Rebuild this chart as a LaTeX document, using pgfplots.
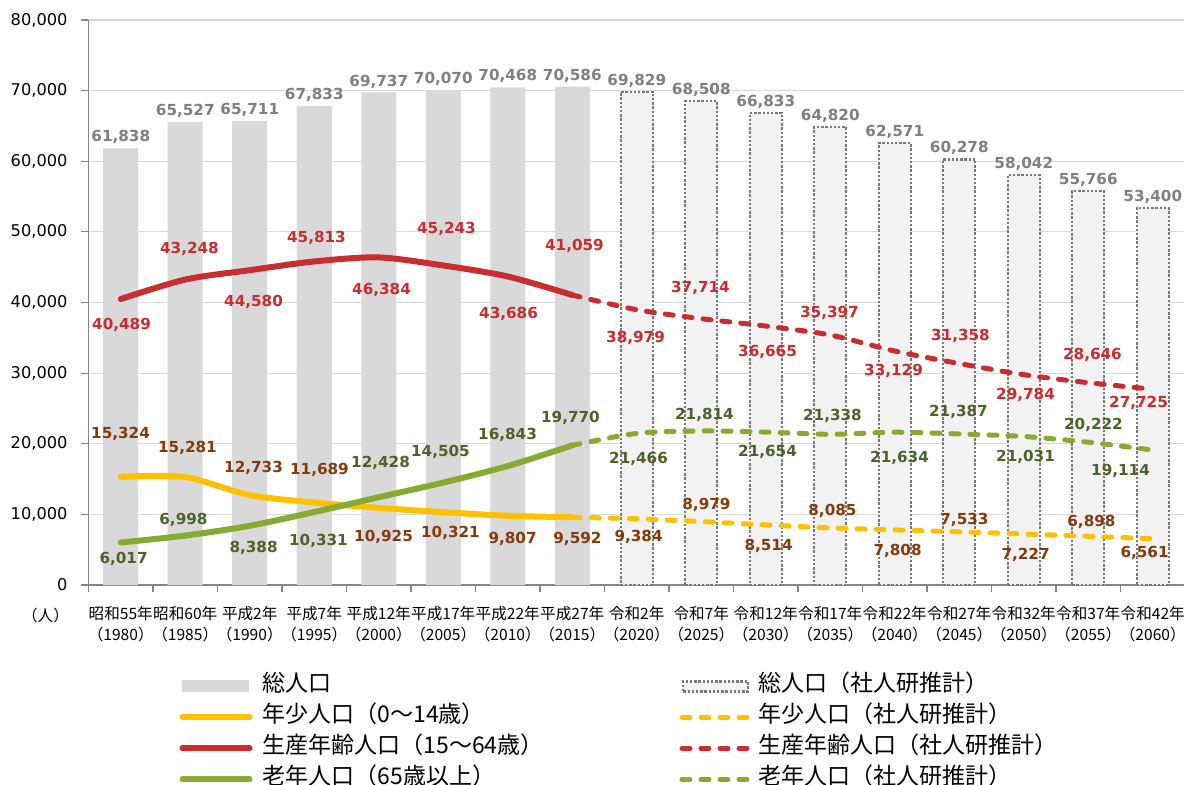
\documentclass[border=0pt]{standalone}
\usepackage{fontspec}
\setmainfont{DejaVu Sans}
\newfontfamily\jp{Noto Sans CJK JP}
\usepackage{pgfplots}
\usepackage{pgfplotstable}
\pgfplotsset{compat=1.18}
\definecolor{barH}{RGB}{217,217,217}
\definecolor{barP}{RGB}{242,242,242}
\definecolor{dotc}{RGB}{120,120,120}
\definecolor{axc}{RGB}{134,134,134}
\definecolor{gridc}{RGB}{217,217,217}
\definecolor{yel}{RGB}{255,192,0}
\definecolor{red1}{RGB}{200,45,48}
\definecolor{grn}{RGB}{134,170,50}
\definecolor{labgray}{RGB}{128,128,128}
\definecolor{labbrown}{RGB}{132,60,12}
\definecolor{labgreen}{RGB}{79,98,40}

\pgfplotstableread{
x tot
0 61838
1 65527
2 65711
3 67833
4 69737
5 70070
6 70468
7 70586
}\totH
\pgfplotstableread{
x tot
8 69829
9 68508
10 66833
11 64820
12 62571
13 60278
14 58042
15 55766
16 53400
}\totP
\pgfplotstableread{
x y dx dy
0 40489 0.4 -13
1 43248 2.1 15.3
2 44580 1.9 -15.9
3 45813 1.1 11.7
4 46384 1.4 -16.3
5 45243 1.6 18.2
6 43686 0.4 -18.7
7 41059 1.1 24.5
8 38979 -0.6 -14.2
9 37714 -0.4 15.3
10 36665 0.9 -13
11 35397 -0.4 11
12 33129 -0.6 -10
13 31358 0.6 13.7
14 29784 0.9 -10.1
15 28646 2.1 13.8
16 27725 -7.1 -6.9
}\prodtab
\pgfplotstableread{
x y dx dy
0 15324 -0.1 21.4
1 15281 1.1 14.6
2 12733 1.9 13.6
3 11689 2.6 16.2
4 10925 2.4 -14.6
5 10321 3.6 -10.5
6 9807 2.4 -11.7
7 9592 2.6 -10.9
8 9384 0.9 -9.2
9 8979 2.6 8.3
10 8514 1.4 -10.6
11 8085 1.1 8.5
12 7808 1.4 -10.6
13 7533 2.6 5.9
14 7227 0.9 -10.5
15 6898 1.6 7.2
16 6561 -4.1 -7.2
}\youngtab
\pgfplotstableread{
x y dx dy
0 6017 1.4 -8.3
1 6998 -0.9 7.8
2 8388 1.9 -11.1
3 10331 2.1 -14.5
4 12428 0.9 17.1
5 14505 -1.4 15.3
6 16843 -0.1 15.5
7 19770 -0.9 13.7
8 21466 0.9 -12.8
9 21814 1.6 8
10 21654 0.9 -10
11 21338 1.1 9.2
12 21634 2.4 -12.9
13 21387 -0.4 11
14 21031 0.9 -10.3
15 20222 2.6 8.6
16 19114 -16.1 -10.5
}\oldtab

\pgfplotsset{
  lab/.style={draw=none, forget plot, nodes near coords, point meta=y,
    visualization depends on={\thisrow{dx} \as \dx},
    visualization depends on={\thisrow{dy} \as \dy},
    nodes near coords={\pgfmathprintnumber[fixed,precision=0,1000 sep={,},assume math mode=true]{\pgfplotspointmeta}},
    nodes near coords align={anchor=center},
    every node near coord/.append style={anchor=center, inner sep=0pt, xshift=\dx pt, yshift=\dy pt,
      font=\bfseries\fontsize{7.6}{9}\selectfont, text=#1}},
  totlab/.style={nodes near coords, point meta=y,
    nodes near coords={\pgfmathprintnumber[fixed,precision=0,1000 sep={,},assume math mode=true]{\pgfplotspointmeta}},
    nodes near coords align={anchor=center},
    every node near coord/.append style={anchor=center, inner sep=0pt, yshift=5.5pt,
      font=\bfseries\fontsize{7.6}{9}\selectfont, text=labgray}},
  solidline/.style={line width=3pt, smooth, line cap=round, line join=round,
    legend image code/.code={\draw[##1] (0pt,0pt) -- (33.5pt,0pt);}},
  dashline/.style={line width=2.5pt, smooth, line cap=round, dash pattern=on 4pt off 5.5pt,
    legend image code/.code={\draw[##1] (0pt,0pt) -- (33.5pt,0pt);}},
}

\begin{document}
\begin{tikzpicture}
\begin{axis}[
  scale only axis, width=548.25pt, height=282.5pt,
  xmin=-0.5, xmax=16.5, ymin=0, ymax=80000,
  clip=false,
  /pgf/number format/assume math mode=true,
  /pgf/number format/fixed, /pgf/number format/precision=0,
  /pgf/number format/1000 sep={,},
  axis x line*=bottom, axis y line*=left,
  axis line style={draw=axc, line width=0.6pt},
  ytick={0,10000,20000,30000,40000,50000,60000,70000,80000},
  scaled y ticks=false,
  yticklabel style={font=\fontsize{8.1}{9.7}\selectfont, text=black, xshift=-3.5pt},
  ymajorgrids, grid style={draw=gridc, line width=0.6pt},
  xtick={-0.5,0.5,1.5,2.5,3.5,4.5,5.5,6.5,7.5,8.5,9.5,10.5,11.5,12.5,13.5,14.5,15.5,16.5},
  x tick label as interval,
  xticklabels={
    昭和55年\\（1980）, 昭和60年\\（1985）, 平成2年\\（1990）, 平成7年\\（1995）,
    平成12年\\（2000）, 平成17年\\（2005）, 平成22年\\（2010）, 平成27年\\（2015）,
    令和2年\\（2020）, 令和7年\\（2025）, 令和12年\\（2030）, 令和17年\\（2035）,
    令和22年\\（2040）, 令和27年\\（2045）, 令和32年\\（2050）, 令和37年\\（2055）,
    令和42年\\（2060）},
  xticklabel style={font=\jp\fontsize{7.8}{10.5}\selectfont, align=center, text=black, yshift=-3.5pt},
  tick align=outside, major tick length=3.5pt,
  tick style={draw=axc, line width=0.6pt},
  legend columns=2,
  legend cell align=left,
  legend style={at={(axis description cs:0.083,-0.160)}, anchor=north west,
    draw=none, fill=none, inner sep=0pt, outer sep=0pt,
    column sep=0pt, row sep=4.5pt,
    font=\jp\fontsize{11.5}{13}\selectfont,
    nodes={inner sep=0pt, text height=8pt, text depth=3pt}},
]
\addplot[ybar, bar width=17.5pt, fill=barH, draw=none, totlab,
  legend image code/.code={\fill[barH] (0pt,-3pt) rectangle (33.5pt,3pt);}]
  table[x=x, y=tot] {\totH};
\addlegendentry{\hspace*{5pt}\makebox[208.5pt][l]{総人口}}
\addplot[ybar, bar width=16pt, fill=barP, draw=dotc, line width=1.2pt, dash pattern=on 1.2pt off 0.9pt, totlab,
  legend image code/.code={\draw[fill=barP, draw=dotc, line width=1.2pt, dash pattern=on 1.2pt off 0.9pt] (0.6pt,-2.5pt) rectangle (33pt,2.5pt);}]
  table[x=x, y=tot] {\totP};
\addlegendentry{\hspace*{3.5pt}総人口（社人研推計）}

\addplot[yel, solidline] table[x=x, y=y] {
x y
0 15324
1 15281
2 12733
3 11689
4 10925
5 10321
6 9807
7 9592
};
\addlegendentry{\hspace*{5pt}\makebox[208.5pt][l]{年少人口（0〜14歳）}}
\addplot[yel, dashline] table[x=x, y=y] {
x y
7 9592
8 9384
9 8979
10 8514
11 8085
12 7808
13 7533
14 7227
15 6898
16 6561
};
\addlegendentry{\hspace*{3.5pt}年少人口（社人研推計）}

\addplot[red1, solidline] table[x=x, y=y] {
x y
0 40489
1 43248
2 44580
3 45813
4 46384
5 45243
6 43686
7 41059
};
\addlegendentry{\hspace*{5pt}\makebox[208.5pt][l]{生産年齢人口（15〜64歳）}}
\addplot[red1, dashline] table[x=x, y=y] {
x y
7 41059
8 38979
9 37714
10 36665
11 35397
12 33129
13 31358
14 29784
15 28646
16 27725
};
\addlegendentry{\hspace*{3.5pt}生産年齢人口（社人研推計）}

\addplot[grn, solidline] table[x=x, y=y] {
x y
0 6017
1 6998
2 8388
3 10331
4 12428
5 14505
6 16843
7 19770
};
\addlegendentry{\hspace*{5pt}\makebox[208.5pt][l]{老年人口（65歳以上）}}
\addplot[grn, dashline] table[x=x, y=y] {
x y
7 19770
8 21466
9 21814
10 21654
11 21338
12 21634
13 21387
14 21031
15 20222
16 19114
};
\addlegendentry{\hspace*{3.5pt}老年人口（社人研推計）}

\addplot[lab=red1] table[x=x, y=y] {\prodtab};
\addplot[lab=labbrown] table[x=x, y=y] {\youngtab};
\addplot[lab=labgreen] table[x=x, y=y] {\oldtab};

\node[font=\jp\fontsize{7.8}{9}\selectfont, anchor=center] at (rel axis cs:0,0) [xshift=-21.5pt, yshift=-15.5pt] {（人）};
\end{axis}
\pgfresetboundingbox
\path[use as bounding box] (-44.25pt,-99.5pt) rectangle (547.75pt,292.5pt);
\end{tikzpicture}
\end{document}
